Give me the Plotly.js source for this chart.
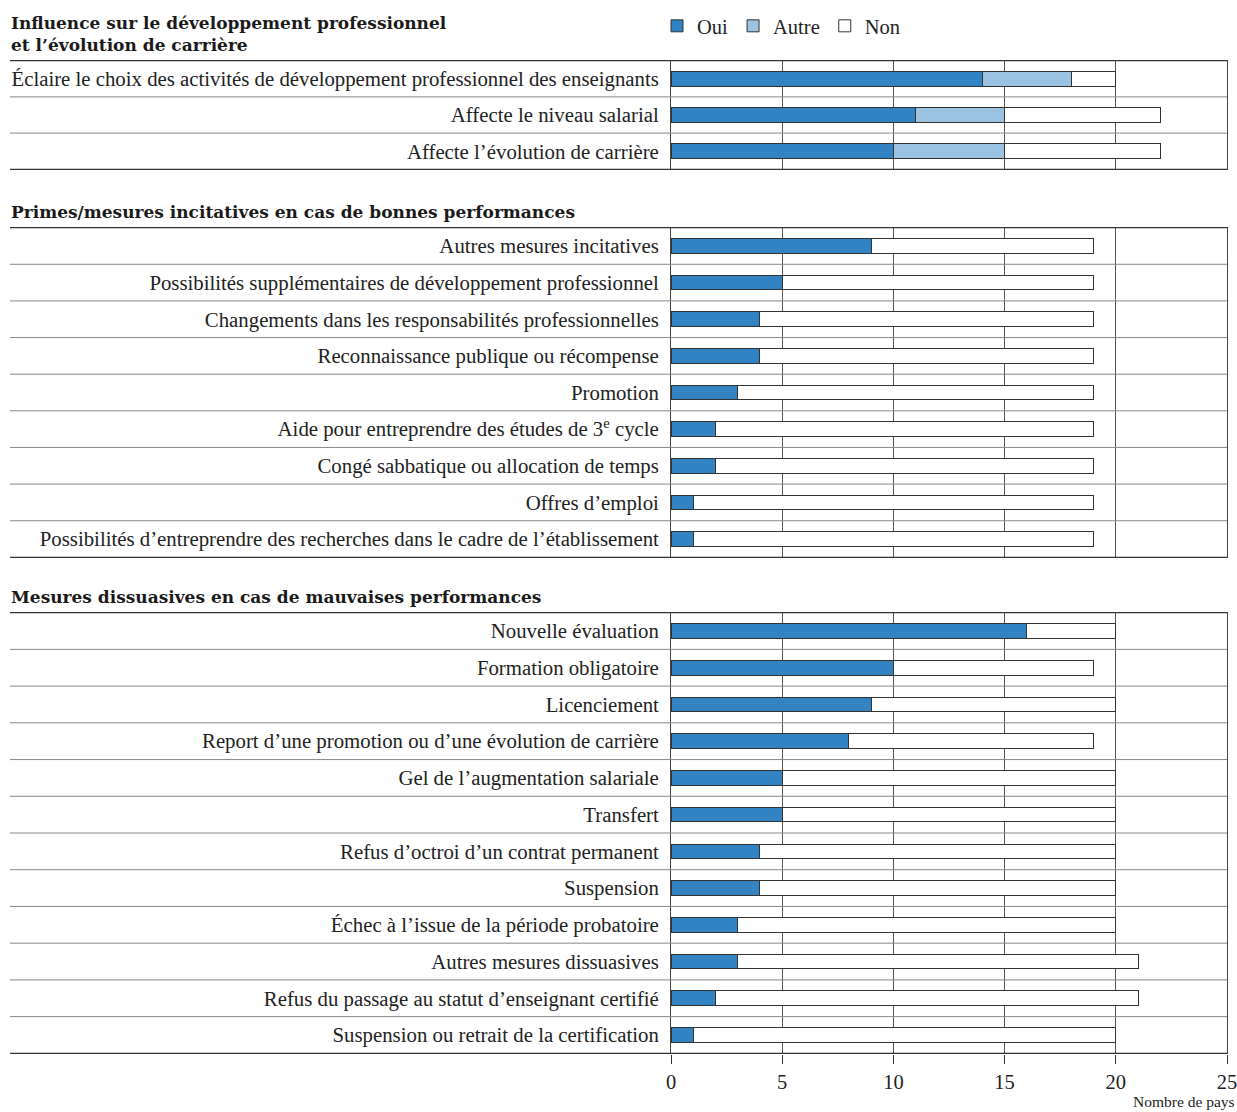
<!DOCTYPE html>
<html><head><meta charset="utf-8">
<script src="https://cdn.plot.ly/plotly-3.0.1.min.js"></script>
<style>html,body{margin:0;padding:0;background:#fff}</style>
</head><body><div id="chart" style="width:1237px;height:1112px"></div>
<script>
// ---- data ----
const sectionTitles = [
  "Influence sur le développement professionnel<br>et l’évolution de carrière",
  "Primes/mesures incitatives en cas de bonnes performances",
  "Mesures dissuasives en cas de mauvaises performances"
];
const labels1 = [
  "Éclaire le choix des activités de développement professionnel des enseignants",
  "Affecte le niveau salarial",
  "Affecte l’évolution de carrière"
];
const oui1 = [14, 11, 10];
const autre1 = [4, 4, 5];
const non1 = [2, 7, 7];

const labels2 = [
  "Autres mesures incitatives",
  "Possibilités supplémentaires de développement professionnel",
  "Changements dans les responsabilités professionnelles",
  "Reconnaissance publique ou récompense",
  "Promotion",
  "Aide pour entreprendre des études de 3<sup>e</sup> cycle",
  "Congé sabbatique ou allocation de temps",
  "Offres d’emploi",
  "Possibilités d’entreprendre des recherches dans le cadre de l’établissement"
];
const oui2 = [9, 5, 4, 4, 3, 2, 2, 1, 1];
const non2 = [10, 14, 15, 15, 16, 17, 17, 18, 18];

const labels3 = [
  "Nouvelle évaluation",
  "Formation obligatoire",
  "Licenciement",
  "Report d’une promotion ou d’une évolution de carrière",
  "Gel de l’augmentation salariale",
  "Transfert",
  "Refus d’octroi d’un contrat permanent",
  "Suspension",
  "Échec à l’issue de la période probatoire",
  "Autres mesures dissuasives",
  "Refus du passage au statut d’enseignant certifié",
  "Suspension ou retrait de la certification"
];
const oui3 = [16, 10, 9, 8, 5, 5, 4, 4, 3, 3, 2, 1];
const non3 = [4, 9, 11, 11, 15, 15, 16, 16, 17, 18, 19, 19];

const seriesNames = ["Oui", "Autre", "Non"];
const xTicks = [0, 5, 10, 15, 20, 25];
const xAxisLabel = "Nombre de pays";

// ---- styles ----
const W = 1237, H = 1112;
const colOui = "#3283c3", colAutre = "#9cc2e2", colNon = "#ffffff", edge = "#333333";
const serif = "Liberation Serif, serif";
const boldFont = "DejaVu Serif, serif";
const labelSize = 20.8;
const xDom = [671 / W, 1227 / W];
const panelsPx = [[60, 170], [227, 558], [612, 1054]];
const yDom = p => [1 - panelsPx[p][1] / H, 1 - panelsPx[p][0] / H];

const panels = [
  {labels: labels1, series: [oui1, autre1, non1]},
  {labels: labels2, series: [oui2, null, non2]},
  {labels: labels3, series: [oui3, null, non3]}
];
const fills = [colOui, colAutre, colNon];

const data = [];
const layout = {
  width: W, height: H,
  margin: {l: 0, r: 0, t: 0, b: 0},
  paper_bgcolor: "#fff", plot_bgcolor: "#fff",
  barmode: "stack", bargap: 0.6,
  font: {family: serif, size: labelSize, color: "#222"},
  showlegend: true,
  legend: {orientation: "h", x: 657 / W, xanchor: "left", y: 1 - 6 / H, yanchor: "top",
           font: {family: serif, size: 20.5, color: "#222"}, itemwidth: 30, tracegroupgap: 0,
           bgcolor: "rgba(0,0,0,0)"},
  shapes: [], annotations: []
};

panels.forEach((pn, p) => {
  const xa = p === 0 ? "x" : "x" + (p + 1);
  const ya = p === 0 ? "y" : "y" + (p + 1);
  pn.series.forEach((vals, s) => {
    if (!vals) return;
    data.push({
      type: "bar", orientation: "h", name: seriesNames[s],
      x: vals, y: pn.labels, xaxis: xa, yaxis: ya,
      marker: {color: fills[s], line: {color: edge, width: 1}},
      showlegend: p === 0, legendgroup: seriesNames[s], hoverinfo: "x+y"
    });
  });
  const axKeyX = p === 0 ? "xaxis" : "xaxis" + (p + 1);
  const axKeyY = p === 0 ? "yaxis" : "yaxis" + (p + 1);
  layout[axKeyX] = {
    domain: xDom, anchor: ya, range: [0, 25], tickvals: xTicks,
    showgrid: true, gridcolor: "#555", gridwidth: 1, zeroline: false,
    showline: false, showticklabels: p === 2, ticklabeloverflow: "allow",
    ticks: p === 2 ? "outside" : "", ticklen: 9, tickcolor: "#333",
    tickfont: {family: serif, size: 20.5, color: "#222"}, fixedrange: true
  };
  layout[axKeyY] = {
    domain: yDom(p), anchor: xa, type: "category",
    categoryorder: "array", categoryarray: pn.labels,
    autorange: "reversed", showgrid: false, zeroline: false,
    showline: true, mirror: true, linecolor: "#444", linewidth: 1,
    ticks: "", ticklabelstandoff: 7, ticklabeloverflow: "allow",
    tickfont: {family: serif, size: labelSize, color: "#222"}, fixedrange: true
  };
  const n = pn.labels.length;
  for (let i = -1; i < n; i++) {
    const edgeLine = (i === -1 || i === n - 1);
    layout.shapes.push({
      type: "line", xref: "paper", yref: ya,
      x0: 10 / W, x1: 1227 / W, y0: i + 0.5, y1: i + 0.5,
      line: {color: edgeLine ? "#333" : "#888", width: edgeLine ? 1.3 : 1}
    });
  }
  layout.annotations.push({
    xref: "paper", yref: "paper", x: 9 / W, xanchor: "left",
    y: 1 - (panelsPx[p][0] - 3) / H, yanchor: "bottom", align: "left",
    text: "<b>" + sectionTitles[p] + "</b>", showarrow: false,
    font: {family: boldFont, size: 17, color: "#1a1a1a"}
  });
});

layout.annotations.push({
  xref: "paper", yref: "paper", x: 1, xanchor: "right",
  y: 0, yanchor: "bottom", text: xAxisLabel, showarrow: false,
  font: {family: serif, size: 15.5, color: "#222"}
});

Plotly.newPlot("chart", data, layout, {displayModeBar: false, staticPlot: true});
</script></body></html>
